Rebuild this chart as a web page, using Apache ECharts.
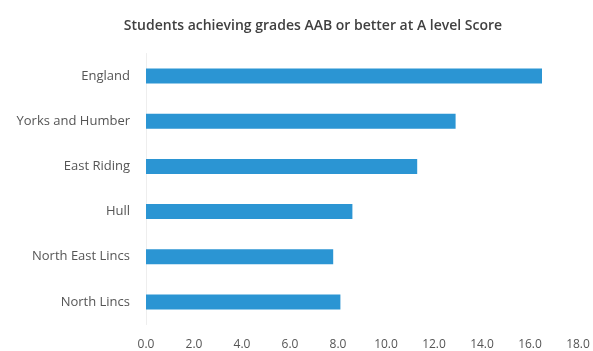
<!DOCTYPE html>
<html>
<head>
<meta charset="utf-8">
<script src="https://cdn.jsdelivr.net/npm/echarts@6/dist/echarts.min.js"></script>
<style>
  html, body { margin: 0; padding: 0; background: #ffffff; }
  #chart { width: 593px; height: 351px; }
</style>
</head>
<body>
<div id="chart"></div>
<script>
// Areas, listed bottom to top as the category axis draws them
const areas = ['North Lincs', 'North East Lincs', 'Hull', 'East Riding', 'Yorks and Humber', 'England'];
// Percentage of students achieving AAB or better
const scores = [8.1, 7.8, 8.6, 11.3, 12.9, 16.5];
const titleText = 'Students achieving grades AAB or better at A level Score';

const chart = echarts.init(document.getElementById('chart'), null, { renderer: 'canvas' });
const font = '"Open Sans", "Noto Sans", sans-serif';

chart.setOption({
  animation: false,
  backgroundColor: '#ffffff',
  title: {
    text: titleText,
    left: 308,
    textAlign: 'center',
    top: 14,
    textStyle: { fontFamily: font, fontSize: 14, fontWeight: 600, color: '#404040' }
  },
  grid: { left: 146, right: 15, top: 53.5, bottom: 26.5, containLabel: false },
  xAxis: {
    type: 'value',
    min: 0,
    max: 18,
    interval: 2,
    axisLine: { show: false },
    axisTick: { show: false },
    splitLine: { show: false },
    axisLabel: {
      margin: 14,
      fontFamily: font,
      fontSize: 12,
      color: '#555555',
      formatter: v => v.toFixed(1)
    }
  },
  yAxis: {
    type: 'category',
    data: areas,
    axisLine: { show: true, lineStyle: { color: '#eeeeee', width: 1 } },
    axisTick: { show: false },
    axisLabel: { margin: 16, fontFamily: font, fontSize: 13, color: '#555555' }
  },
  series: [{
    type: 'bar',
    data: scores,
    barWidth: 15,
    itemStyle: { color: '#2b95d3' }
  }]
});
</script>
</body>
</html>
